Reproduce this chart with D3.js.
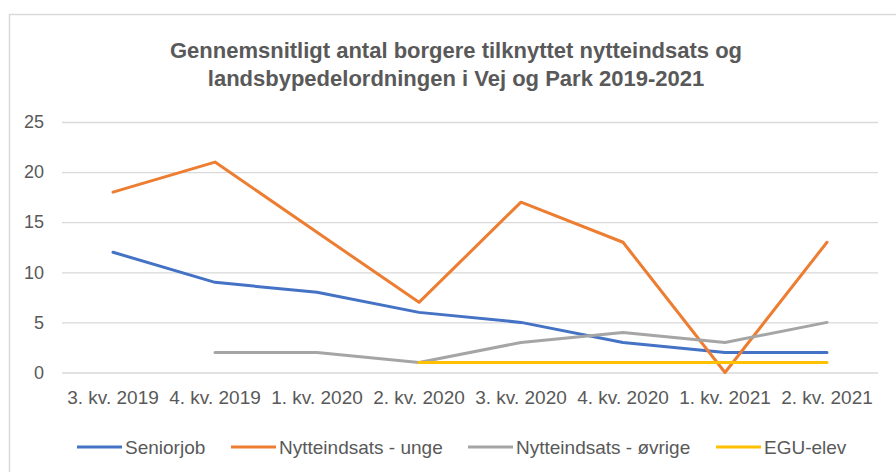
<!DOCTYPE html>
<html>
<head>
<meta charset="utf-8">
<script src="https://cdn.jsdelivr.net/npm/d3@7"></script>
<style>
  html, body { margin: 0; padding: 0; background: #fff; }
  svg { display: block; }
  text { font-family: "Liberation Sans", Arial, sans-serif; }
</style>
</head>
<body>
<svg id="chart" width="896" height="472"></svg>
<script>
const titleLines = [
  "Gennemsnitligt antal borgere tilknyttet nytteindsats og",
  "landsbypedelordningen i Vej og Park 2019-2021"
];
const categories = ["3. kv. 2019", "4. kv. 2019", "1. kv. 2020", "2. kv. 2020",
                    "3. kv. 2020", "4. kv. 2020", "1. kv. 2021", "2. kv. 2021"];
const seriesNames = ["Seniorjob", "Nytteindsats - unge", "Nytteindsats - øvrige", "EGU-elev"];
const seniorjob = [12, 9, 8, 6, 5, 3, 2, 2];
const nytteUnge = [18, 21, 14, 7, 17, 13, 0, 13];
const nytteOvrige = [null, 2, 2, 1, 3, 4, 3, 5];
const eguElev = [null, null, null, 1, 1, 1, 1, 1];
const yTicks = [0, 5, 10, 15, 20, 25];
const colors = ["#4472C4", "#ED7D31", "#A5A5A5", "#FFC000"];

const seriesValues = [seniorjob, nytteUnge, nytteOvrige, eguElev];

const svg = d3.select("#chart");
const textColor = "#595959";
const gridColor = "#d9d9d9";

// chart frame
svg.append("rect")
  .attr("x", 9.5).attr("y", 14.5)
  .attr("width", 900).attr("height", 470)
  .attr("fill", "#fff")
  .attr("stroke", gridColor).attr("stroke-width", 1.5);

// title
svg.append("g").selectAll("text").data(titleLines).join("text")
  .attr("x", 456)
  .attr("y", (d, i) => 58 + i * 28)
  .attr("text-anchor", "middle")
  .attr("font-size", 22)
  .attr("font-weight", "bold")
  .attr("fill", textColor)
  .text(d => d);

const plot = { left: 62, right: 878, top: 122, bottom: 372.5 };

const x = d3.scaleBand().domain(categories).range([plot.left, plot.right]).padding(0);
const y = d3.scaleLinear().domain([0, 25]).range([plot.bottom, plot.top]);

// grid
const grid = svg.append("g")
  .attr("transform", `translate(${plot.left},0)`)
  .call(d3.axisLeft(y).tickValues(yTicks).tickSize(-(plot.right - plot.left)).tickFormat(""));
grid.select(".domain").remove();
grid.selectAll("line").attr("stroke", gridColor).attr("stroke-width", 1.3);

// y labels
const yAxis = svg.append("g")
  .attr("transform", `translate(44,0)`)
  .call(d3.axisLeft(y).tickValues(yTicks).tickSize(0).tickPadding(0));
yAxis.select(".domain").remove();
yAxis.selectAll("text")
  .attr("font-size", 18)
  .attr("font-family", "Liberation Sans, Arial, sans-serif")
  .attr("fill", textColor);

// x labels
const xAxis = svg.append("g")
  .attr("transform", `translate(0,${plot.bottom})`)
  .call(d3.axisBottom(x).tickSize(0).tickPadding(18));
xAxis.select(".domain").remove();
xAxis.selectAll("text")
  .attr("font-size", 19)
  .attr("font-family", "Liberation Sans, Arial, sans-serif")
  .attr("fill", textColor);

// lines
const line = d3.line()
  .defined(d => d.v !== null)
  .x(d => x(d.c) + x.bandwidth() / 2)
  .y(d => y(d.v));

svg.append("g").selectAll("path")
  .data(seriesValues.map((vals, i) => ({ i, pts: vals.map((v, j) => ({ c: categories[j], v })) })))
  .join("path")
  .attr("d", d => line(d.pts))
  .attr("fill", "none")
  .attr("stroke", d => colors[d.i])
  .attr("stroke-width", 3)
  .attr("stroke-linejoin", "round")
  .attr("stroke-linecap", "round");

// legend
const legendX = [77, 231, 468, 716];
const legend = svg.append("g").selectAll("g").data(seriesNames).join("g")
  .attr("transform", (d, i) => `translate(${legendX[i]},447)`);
legend.append("line")
  .attr("x1", 0).attr("x2", 45).attr("y1", 0).attr("y2", 0)
  .attr("stroke", (d, i) => colors[i]).attr("stroke-width", 3);
legend.append("text")
  .attr("x", 48).attr("y", 7)
  .attr("font-size", 19)
  .attr("fill", textColor)
  .text(d => d);
</script>
</body>
</html>
